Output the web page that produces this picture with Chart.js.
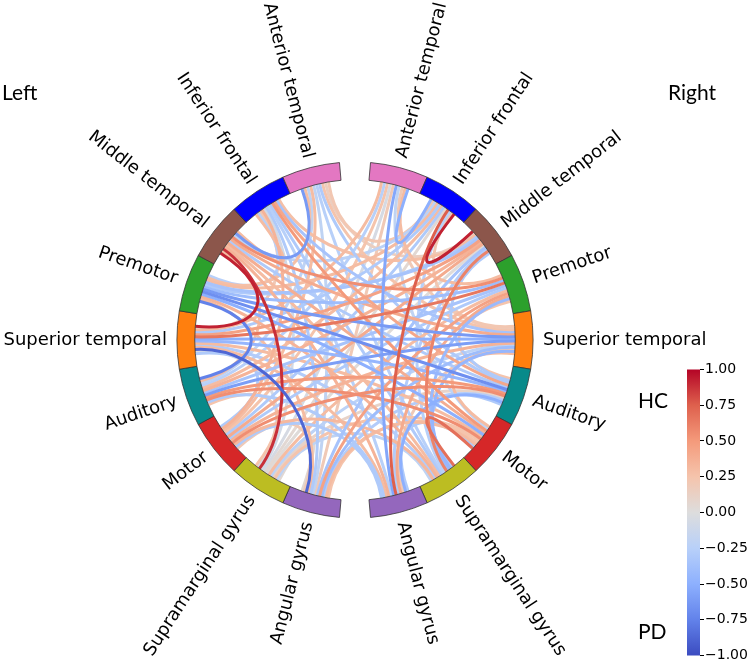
<!DOCTYPE html>
<html>
<head>
<meta charset="utf-8">
<script src="https://cdn.jsdelivr.net/npm/chart.js@4.4.1/dist/chart.umd.min.js"></script>
<style>
  html, body { margin: 0; padding: 0; background: #fff; overflow: hidden; }
  #page { position: relative; width: 750px; height: 662px; }
  #circleBox { position: absolute; left: 0; top: 0; width: 750px; height: 662px; }
  #cbarBox { position: absolute; left: 687px; top: 360px; width: 73px; height: 305px; }
</style>
</head>
<body>
<div id="page">
  <div id="circleBox"><canvas id="circle"></canvas></div>
  <div id="cbarBox"><canvas id="cbar"></canvas></div>
</div>
<script>
// regions, top to bottom on each hemisphere
const regionNames = ["Anterior temporal", "Inferior frontal", "Middle temporal", "Premotor",
  "Superior temporal", "Auditory", "Motor", "Supramarginal gyrus", "Angular gyrus"];
const regionColors = ["#e377c2", "#0000ff", "#8c564b", "#2ca02c", "#ff7f0e",
  "#088a8a", "#d62728", "#bcbd22", "#9467bd"];

// connections (L = left, R = right, number = region above, 1-based)
const conFrom = ["L3","L3","L1","L4","L5","L5","L3","L4","L4","L4","L6","L6","L6","L7","R2","R2","R1","R1","R7","R3",
  "R6","L5","L5","L2","L2","R4","R4","R4","R5","L9","L9","L3","R3","L5","L4","L2","L2","L1","L1","L1",
  "L1","L1","L1","L2","L2","L3","L3","L4","L4","L4","L5","L5","L6","L6","L6","L7","L7","L7","L7","L7",
  "L8","L8","L8","L8","L8","L8","L8","L9","L9","R1","R1","R1","R1","R2","R2","R3","R3","R3","R5","R5",
  "R7","R7","R8","R9","R9","R9","L1","L1","L2","L2","L3","L3","L4","L5","L6","L7","L8","L8","L9","L9",
  "R1","R2","R3","R4","R5","R6","L2","L8","L8","L1"];
const conTo = ["L5","L8","L3","L6","L9","R4","R4","R5","R6","R7","R5","R6","R7","R6","R3","R9","R9","R2","R8","R8",
  "R9","R6","R3","R7","R6","L9","R8","R9","R8","R5","R3","R5","L7","R5","R4","R8","R9","R6","R8","L7",
  "R5","L6","R3","L7","L5","R6","L6","R2","L9","R8","R7","L7","R4","R2","L8","R5","R2","R1","L9","R4",
  "R3","R1","R2","L2","R4","R7","R8","R1","L2","L5","L6","R5","R7","L5","R8","L4","R6","L6","R7","L2",
  "R9","L9","L3","L3","L5","L7","L4","R2","L4","R3","R2","R7","R3","R8","R9","R8","R5","R6","R6","R7",
  "R4","R5","R9","R6","R9","R8","L3","L9","L5","L9"];
const conValue = [0.92, 0.88, -0.62, -0.75, -0.88, 0.65, 0.55, -0.62, -0.68, -0.5, -0.6, 0.5, 0.55, 0.55, 0.92, 0.75, -0.55, -0.5, 0.68, 0.6,
  -0.5, -0.45, 0.45, 0.5, 0.42, 0.45, -0.42, 0.4, -0.45, -0.4, -0.35, 0.4, 0.4, -0.5, -0.4, -0.3, -0.25, -0.3, -0.25, 0.3,
  0.25, -0.2, 0.15, 0.35, 0.2, -0.3, 0.3, 0.3, 0.3, 0.35, 0.3, -0.3, -0.35, 0.3, 0.25, 0.35, -0.3, 0.25, 0.2, -0.3,
  0.02, -0.05, 0.05, -0.08, 0.3, 0.25, -0.2, 0.2, -0.3, 0.3, -0.25, 0.2, -0.2, -0.3, -0.25, -0.35, -0.3, 0.35, 0.3, -0.35,
  -0.3, 0.3, 0.3, 0.35, 0.3, -0.3, 0.28, 0.22, -0.25, 0.28, -0.22, 0.38, -0.3, -0.28, -0.3, 0.32, -0.22, 0.1, -0.28, 0.25,
  0.3, 0.22, -0.28, 0.25, 0.2, -0.3, 0.3, 0.05, -0.05, -0.2];

const cbarTicks = [1, 0.75, 0.5, 0.25, 0, -0.25, -0.5, -0.75, -1];

// matplotlib "coolwarm"
const coolwarmStops = [[59,76,192],[98,130,234],[141,176,254],[184,208,249],[221,221,221],
  [245,196,172],[244,154,123],[222,96,77],[180,4,38]];
function coolwarm(v) {
  let s = Math.min(1, Math.max(0, (v + 1) / 2)) * (coolwarmStops.length - 1);
  let i = Math.min(Math.floor(s), coolwarmStops.length - 2), f = s - i;
  let a = coolwarmStops[i], b = coolwarmStops[i + 1];
  return "rgb(" + a.map((c, k) => Math.round(c + (b[k] - c) * f)).join(",") + ")";
}

// ring: right side top->bottom, gap, left side bottom->top, gap
const GROUP_SEP = 10;
const nodeSep = (360 - 2 * GROUP_SEP) / (2 * regionNames.length);
const ringKeys = [], ringValues = [], ringFill = [], ringBorder = [];
regionNames.forEach((n, i) => { ringKeys.push("R" + (i + 1)); ringValues.push(nodeSep); ringFill.push(regionColors[i]); ringBorder.push(0.8); });
ringKeys.push(null); ringValues.push(GROUP_SEP); ringFill.push("rgba(0,0,0,0)"); ringBorder.push(0);
for (let i = regionNames.length - 1; i >= 0; i--) { ringKeys.push("L" + (i + 1)); ringValues.push(nodeSep); ringFill.push(regionColors[i]); ringBorder.push(0.8); }
ringKeys.push(null); ringValues.push(GROUP_SEP); ringFill.push("rgba(0,0,0,0)"); ringBorder.push(0);

function nodeInfo(chart) {
  const arcs = chart.getDatasetMeta(0).data;
  const info = {};
  ringKeys.forEach((k, i) => {
    if (!k) return;
    const a = arcs[i];
    info[k] = { mid: (a.startAngle + a.endAngle) / 2, width: a.endAngle - a.startAngle,
      x: a.x, y: a.y, rIn: a.innerRadius, rOut: a.outerRadius,
      name: regionNames[+k.slice(1) - 1], right: k[0] === "R" };
  });
  return info;
}

const chordPlugin = {
  id: "chords",
  beforeDatasetsDraw(chart) {
    const info = nodeInfo(chart);
    const ctx = chart.ctx;
    const TWO_PI = Math.PI * 2;
    // spread chord ends over each node, ordered by where the other end goes
    const ends = {};
    const add = (k, i, other) => {
      let d = ((info[other].mid - info[k].mid) % TWO_PI + TWO_PI) % TWO_PI;
      (ends[k] = ends[k] || []).push({ i, d });
    };
    conFrom.forEach((a, i) => { add(a, i, conTo[i]); add(conTo[i], i, a); });
    const endAngle = {};
    Object.keys(ends).forEach(k => {
      const list = ends[k].sort((p, q) => p.d - q.d);
      const n = list.length;
      list.forEach((e, j) => {
        const f = n > 1 ? 1 - 2 * j / (n - 1) : 0;
        endAngle[e.i + "|" + k] = info[k].mid + f * 0.26 * info[k].width;
      });
    });
    const order = conValue.map((v, i) => i).sort((p, q) => Math.abs(conValue[p]) - Math.abs(conValue[q]));
    ctx.save();
    ctx.lineWidth = 3;
    order.forEach(i => {
      const A = info[conFrom[i]];
      const ta = endAngle[i + "|" + conFrom[i]], tb = endAngle[i + "|" + conTo[i]];
      const r0 = A.rIn, rc = A.rOut * 0.5, cx = A.x, cy = A.y;
      ctx.beginPath();
      ctx.moveTo(cx + r0 * Math.cos(ta), cy + r0 * Math.sin(ta));
      ctx.bezierCurveTo(cx + rc * Math.cos(ta), cy + rc * Math.sin(ta),
        cx + rc * Math.cos(tb), cy + rc * Math.sin(tb),
        cx + r0 * Math.cos(tb), cy + r0 * Math.sin(tb));
      ctx.strokeStyle = coolwarm(conValue[i]);
      ctx.stroke();
    });
    ctx.restore();
  },
  afterDatasetsDraw(chart) {
    const info = nodeInfo(chart);
    const ctx = chart.ctx;
    ctx.save();
    ctx.fillStyle = "#000";
    ctx.font = '18px "DejaVu Sans"';
    ctx.textBaseline = "middle";
    Object.values(info).forEach(n => {
      const r = n.rOut + 10;
      ctx.save();
      ctx.translate(n.x + r * Math.cos(n.mid), n.y + r * Math.sin(n.mid));
      if (n.right) { ctx.rotate(n.mid); ctx.textAlign = "left"; }
      else { ctx.rotate(n.mid + Math.PI); ctx.textAlign = "right"; }
      ctx.fillText(n.name, 0, 0);
      ctx.restore();
    });
    ctx.font = "21px Lato";
    ctx.textAlign = "left";
    ctx.fillText("Left", 2, 93);
    ctx.fillText("Right", 668, 93);
    ctx.fillText("HC", 638, 401);
    ctx.fillText("PD", 638, 632);
    ctx.restore();
  }
};

new Chart("circle", {
  type: "doughnut",
  data: {
    labels: ringKeys.map(k => k || ""),
    datasets: [{
      data: ringValues,
      backgroundColor: ringFill,
      borderColor: "#333",
      borderWidth: ringBorder
    }]
  },
  options: {
    responsive: true,
    maintainAspectRatio: false,
    animation: false,
    events: [],
    cutout: "90%",
    rotation: GROUP_SEP / 2,
    layout: { padding: { left: 176.5, right: 216.5, top: 161.5, bottom: 143.5 } },
    plugins: { legend: { display: false }, tooltip: { enabled: false } }
  },
  plugins: [chordPlugin]
});

new Chart("cbar", {
  type: "bar",
  data: {
    labels: [""],
    datasets: [{
      data: [[-1, 1]],
      barPercentage: 1,
      categoryPercentage: 1,
      borderWidth: 0,
      backgroundColor: (c) => {
        const ca = c.chart.chartArea;
        if (!ca) return "#ddd";
        const g = c.chart.ctx.createLinearGradient(0, ca.bottom, 0, ca.top);
        coolwarmStops.forEach((s, i) => g.addColorStop(i / (coolwarmStops.length - 1), "rgb(" + s.join(",") + ")"));
        return g;
      }
    }]
  },
  options: {
    responsive: true,
    maintainAspectRatio: false,
    animation: false,
    events: [],
    plugins: { legend: { display: false }, tooltip: { enabled: false } },
    scales: {
      x: { display: false },
      y: {
        position: "right",
        min: -1, max: 1,
        afterBuildTicks: (s) => { s.ticks = cbarTicks.map(v => ({ value: v })); },
        afterFit: (s) => { s.width = 60; },
        ticks: {
          color: "#000",
          padding: 1,
          font: { family: "DejaVu Sans", size: 14 },
          callback: (v) => v.toFixed(2).replace("-", "\u2212")
        },
        grid: { drawOnChartArea: false, drawTicks: true, tickLength: 4, color: "#000" },
        border: { display: false }
      }
    }
  }
});
</script>
</body>
</html>
